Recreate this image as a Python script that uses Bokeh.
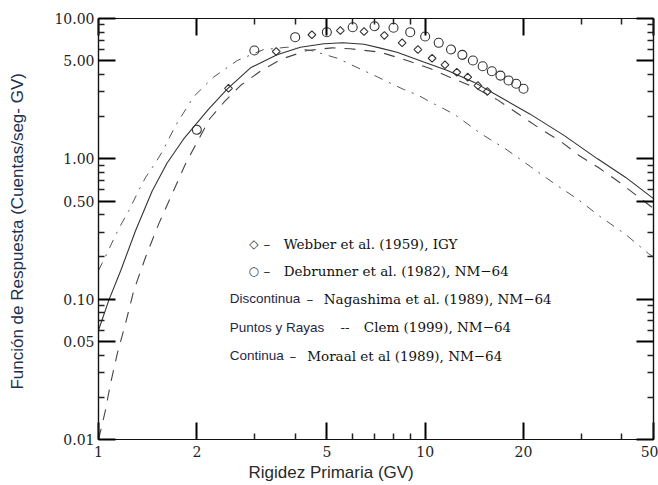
import numpy as np
from bokeh.plotting import figure
from bokeh.models import (FixedTicker, PrintfTickFormatter, CustomJSTickFormatter,
                          LogAxis, Label)
from bokeh.embed import file_html
from bokeh.resources import INLINE

# ---------------- data ----------------
# Moraal et al (1989) - solid
moraal_x = [1.0, 1.075, 1.17, 1.3, 1.46, 1.62, 1.82, 2.17, 2.48, 2.92, 3.52, 4.15, 4.9,
            5.6, 6.5, 7.3, 8.2, 9.9, 11.7, 14.1, 16.9, 20.9, 26.6, 33.7, 41.0, 50.0]
moraal_y = [0.060, 0.098, 0.16, 0.31, 0.59, 0.93, 1.38, 2.25, 3.15, 4.45, 5.51, 6.24, 6.6,
            6.72, 6.55, 6.15, 5.75, 4.89, 4.26, 3.52, 2.77, 2.09, 1.47, 1.0, 0.74, 0.52]

# Nagashima et al (1989) - dashed
naga_x = [1.0, 1.021, 1.05, 1.088, 1.141, 1.209, 1.282, 1.393, 1.529, 1.681, 1.85, 2.19,
          2.43, 2.72, 3.15, 3.65, 4.35, 5.19, 5.9, 7.3, 8.8, 10.4, 11.9, 14.1, 16.7, 19.4,
          22.3, 25.9, 29.6, 34.0, 39.5, 45.5, 50.0]
naga_y = [0.0100, 0.0122, 0.0161, 0.0249, 0.0407, 0.0667, 0.115, 0.199, 0.344, 0.563, 0.93,
          1.93, 2.56, 3.33, 4.26, 5.16, 5.91, 6.18, 6.08, 5.75, 5.02, 4.38, 3.82, 3.24, 2.62,
          2.07, 1.66, 1.34, 1.055, 0.863, 0.675, 0.524, 0.443]

# Clem (1999) - dash-dot
clem_x = [1.0, 1.07, 1.127, 1.18, 1.24, 1.33, 1.39, 1.5, 1.566, 1.72, 1.957, 2.25, 2.66,
          3.2, 3.8, 4.5, 5.38, 6.48, 7.14, 7.83, 8.6, 9.55, 10.4, 11.3, 12.3, 13.5, 14.7,
          16.0, 17.6, 21.0, 24.7, 29.4, 34.0, 41.1, 48.3, 50.0]
clem_y = [0.16, 0.22, 0.285, 0.35, 0.43, 0.60, 0.73, 0.95, 1.12, 1.72, 2.78, 3.82, 5.02,
          6.0, 6.25, 5.9, 5.21, 4.26, 3.84, 3.46, 3.12, 2.83, 2.53, 2.30, 2.07, 1.77, 1.53,
          1.35, 1.18, 0.881, 0.673, 0.513, 0.394, 0.289, 0.211, 0.20]

# Debrunner et al (1982) - circles
debr_x = [2, 3, 4, 5, 6, 7, 8, 9, 10, 11, 12, 13, 14, 15, 16, 17, 18, 19, 20]
debr_y = [1.61, 5.92, 7.36, 7.99, 8.67, 8.81, 8.59, 7.99, 7.44, 6.71, 6.01, 5.51, 5.02,
          4.57, 4.21, 3.92, 3.62, 3.43, 3.16]

# Webber et al (1959) - diamonds
webb_x = [2.5, 3.5, 4.5, 5.5, 6.5, 7.5, 8.5, 9.5, 10.5, 11.5, 12.5, 13.5, 14.5, 15.5]
webb_y = [3.18, 5.82, 7.66, 8.21, 8.07, 7.57, 6.71, 6.01, 5.21, 4.68, 4.14, 3.82, 3.33, 3.02]

x_major = [1, 2, 5, 10, 20, 50]
x_minor = [3, 4, 6, 7, 8, 9, 30, 40]
y_major = [0.01, 0.05, 0.1, 0.5, 1, 5, 10]
y_minor = [0.02, 0.03, 0.04, 0.06, 0.07, 0.08, 0.09, 0.2, 0.3, 0.4, 0.6, 0.7, 0.8, 0.9,
           2, 3, 4, 6, 7, 8, 9]

x_title = "Rigidez Primaria (GV)"
y_title = "Función de Respuesta  (Cuentas/seg- GV)"

legend_rows = [
    ("◇", "", "–", "Webber et al. (1959), IGY"),
    ("○", "", "–", "Debrunner et al. (1982), NM−64"),
    ("", "Discontinua", "–", "Nagashima et al. (1989), NM−64"),
    ("", "Puntos y Rayas", "--", "Clem (1999), NM−64"),
    ("", "Continua", "–", "Moraal et al (1989), NM−64"),
]

# ---------------- figure ----------------
FL, FT, FR, FB = 98, 18, 5, 46
W, H = 658, 485
p = figure(width=W, height=H, x_axis_type="log", y_axis_type="log",
           x_range=(1, 50), y_range=(0.01, 10),
           output_backend="svg", toolbar_location=None,
           min_border_left=FL, min_border_right=FR, min_border_top=FT, min_border_bottom=FB)
p.grid.visible = False
p.outline_line_color = "#111111"
p.outline_line_width = 1.2
p.background_fill_color = "white"
p.border_fill_color = "white"

serif = "DejaVu Serif"
sans = "Liberation Sans"

def style_axis(ax, ticker, fmt, show_labels):
    ax.ticker = ticker
    ax.axis_line_color = "#111111"
    ax.axis_line_width = 1.2
    ax.major_tick_in = 17
    ax.major_tick_out = 0
    ax.minor_tick_in = 6
    ax.minor_tick_out = 0
    ax.major_tick_line_color = "black"
    ax.minor_tick_line_color = "#222222"
    ax.major_tick_line_width = 2
    ax.minor_tick_line_width = 1.5
    if show_labels:
        ax.formatter = PrintfTickFormatter(format=fmt)
        ax.major_label_text_font = serif
        ax.major_label_text_font_size = "14px"
        ax.major_label_text_color = "#222222"
    else:
        ax.formatter = CustomJSTickFormatter(code="return ''")
        ax.major_label_text_font_size = "1px"
        ax.major_label_standoff = 0

xt = FixedTicker(ticks=x_major, minor_ticks=x_minor)
yt = FixedTicker(ticks=y_major, minor_ticks=y_minor)

xa = p.xaxis[0]
style_axis(xa, xt, "%d", True)
xa.major_label_standoff = 6
# x title sits left of the frame centre in the reference; trailing no-break
# spaces shift the centred axis label accordingly
xa.axis_label = x_title + "\u00a0" * 19
xa.axis_label_text_font = sans
xa.axis_label_text_font_size = "17px"
xa.axis_label_text_font_style = "normal"
xa.axis_label_text_color = "#2a2a2a"
xa.axis_label_standoff = 3

ya = p.yaxis[0]
style_axis(ya, yt, "%.2f", True)
ya.major_label_standoff = 4
ya.axis_label = y_title
ya.axis_label_text_font = sans
ya.axis_label_text_font_size = "17px"
ya.axis_label_text_font_style = "normal"
ya.axis_label_text_color = "#22304d"
ya.axis_label_standoff = 24

top = LogAxis()
style_axis(top, FixedTicker(ticks=x_major, minor_ticks=x_minor), "%d", False)
p.add_layout(top, "above")
right = LogAxis()
style_axis(right, FixedTicker(ticks=y_major, minor_ticks=y_minor), "%.2f", False)
p.add_layout(right, "right")

# curves
p.line(moraal_x, moraal_y, line_color="#333333", line_width=1.1)
p.line(naga_x, naga_y, line_color="#444444", line_width=1.1, line_dash="11 9")
p.line(clem_x, clem_y, line_color="#555555", line_width=1.0, line_dash="9 7 2 7")

# points
p.scatter(debr_x, debr_y, marker="circle", size=9, fill_color=None,
          line_color="#333333", line_width=1.1)
p.scatter(webb_x, webb_y, marker="square", angle=np.pi / 4, size=5.5, fill_color=None,
          line_color="#333333", line_width=1.1)

# ---------------- legend texts (screen units relative to frame) ----------------
frame_bottom = H - FB

def sx(px):
    return px - FL

def sy(py):
    return frame_bottom - py

row_y = [243, 270, 298.3, 326.7, 355]
marker_x = 253.3
prefix_x = 229.3
dash_x = [263, 263, 306, 340, 289]
text_x = [283.3, 283.3, 323.3, 363.3, 306.7]
for (mk, prefix, dash, txt), yy, dx, tx in zip(legend_rows, row_y, dash_x, text_x):
    if mk:
        p.add_layout(Label(x=sx(marker_x), y=sy(yy), x_units="screen", y_units="screen",
                           text=mk, text_font="DejaVu Sans", text_font_size="12px",
                           text_color="#333333", text_align="center", text_baseline="middle"))
    if prefix:
        p.add_layout(Label(x=sx(prefix_x), y=sy(yy), x_units="screen", y_units="screen",
                           text=prefix, text_font=sans, text_font_size="13.5px",
                           text_color="#1f2747", text_align="left", text_baseline="middle"))
    p.add_layout(Label(x=sx(dx), y=sy(yy), x_units="screen", y_units="screen",
                       text=dash, text_font=serif, text_font_size="13.5px",
                       text_color="#222222", text_align="left", text_baseline="middle"))
    p.add_layout(Label(x=sx(tx), y=sy(yy), x_units="screen", y_units="screen",
                       text=txt, text_font=serif, text_font_size="13.5px",
                       text_color="#111111", text_align="left", text_baseline="middle"))

open("out.html", "w").write(file_html(p, INLINE))
